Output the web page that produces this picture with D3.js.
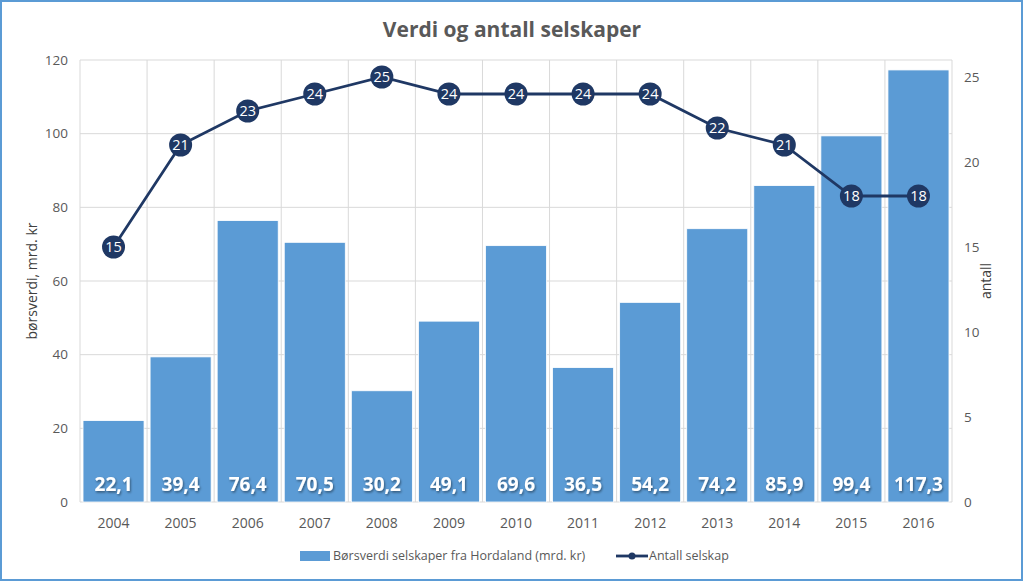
<!DOCTYPE html>
<html><head><meta charset="utf-8">
<script src="https://cdn.jsdelivr.net/npm/d3@7"></script>
<style>
body{margin:0;background:#fff;}
svg{display:block;font-family:"Open Sans","Liberation Sans",sans-serif;}
</style></head><body>
<svg id="c" width="1024" height="582"></svg>
<script>
const years = ["2004","2005","2006","2007","2008","2009","2010","2011","2012","2013","2014","2015","2016"];
const values = [22.1,39.4,76.4,70.5,30.2,49.1,69.6,36.5,54.2,74.2,85.9,99.4,117.3];
const counts = [15,21,23,24,25,24,24,24,24,22,21,18,18];
const leftTicks = [0,20,40,60,80,100,120];
const rightTicks = [0,5,10,15,20,25];

const svg = d3.select("#c");
const W=1024,H=582;
const L=80,R=952,T=60,B=502;
svg.append("rect").attr("x",1).attr("y",1).attr("width",W-3).attr("height",H-3)
  .attr("fill","#fff").attr("stroke","#5B9BD5").attr("stroke-width",2);

const x = d3.scaleBand().domain(years).range([L,R]).paddingInner(0.09).paddingOuter(0.045);
const xb = d3.scaleBand().domain(years).range([L,R]);
const y = d3.scaleLinear().domain([0,120]).range([B,T]);
const y2 = d3.scaleLinear().domain([0,26]).range([B,T]);

// grid
const g = svg.append("g");
g.selectAll("line.h").data(leftTicks).join("line")
  .attr("x1",L).attr("x2",R).attr("y1",d=>y(d)).attr("y2",d=>y(d))
  .attr("stroke","#d9d9d9").attr("stroke-width",1);
const vx = years.map(d=>xb(d)).concat([R]);
g.selectAll("line.v").data(vx).join("line")
  .attr("x1",d=>d).attr("x2",d=>d).attr("y1",T).attr("y2",B)
  .attr("stroke","#d9d9d9").attr("stroke-width",1);

// bars
svg.append("g").selectAll("rect").data(values).join("rect")
  .attr("x",(d,i)=>x(years[i])).attr("width",x.bandwidth())
  .attr("y",d=>y(d)).attr("height",d=>B-y(d))
  .attr("fill","#5B9BD5").attr("stroke","#fff").attr("stroke-width",0.8);

// shadow filter
const defs = svg.append("defs");
const f = defs.append("filter").attr("id","sh").attr("x","-20%").attr("y","-20%").attr("width","140%").attr("height","140%");
f.append("feDropShadow").attr("dx",1).attr("dy",1.5).attr("stdDeviation",1).attr("flood-color","#000").attr("flood-opacity",0.45);

svg.append("g").selectAll("text").data(values).join("text")
  .attr("x",(d,i)=>x(years[i])+x.bandwidth()/2).attr("y",491)
  .attr("text-anchor","middle").attr("fill","#fff").attr("font-weight","bold")
  .attr("font-size",19).attr("filter","url(#sh)")
  .text(d=>d.toFixed(1).replace(".",","));

// line
const cx = i=>xb(years[i])+xb.bandwidth()/2;
const line = d3.line().x((d,i)=>cx(i)).y(d=>y2(d));
svg.append("path").datum(counts).attr("d",line).attr("fill","none")
  .attr("stroke","#1F3864").attr("stroke-width",2.8);
const mk = svg.append("g").selectAll("g").data(counts).join("g")
  .attr("transform",(d,i)=>`translate(${cx(i)},${y2(d)})`);
mk.append("circle").attr("r",11.5).attr("fill","#1F3864");
mk.append("text").attr("text-anchor","middle").attr("dy","0.36em")
  .attr("fill","#fff").attr("font-size",14.5).text(d=>d);

// axes labels
const axc = "#595959";
svg.append("g").selectAll("text").data(leftTicks).join("text")
  .attr("x",68).attr("y",d=>y(d)).attr("dy","0.35em").attr("text-anchor","end")
  .attr("fill",axc).attr("font-size",13.5).text(d=>d);
svg.append("g").selectAll("text").data(rightTicks).join("text")
  .attr("x",964).attr("y",d=>y2(d)).attr("dy","0.35em").attr("text-anchor","start")
  .attr("fill",axc).attr("font-size",13.5).text(d=>d);
svg.append("g").selectAll("text").data(years).join("text")
  .attr("x",d=>xb(d)+xb.bandwidth()/2).attr("y",523).attr("dy","0.35em")
  .attr("text-anchor","middle").attr("fill",axc).attr("font-size",14).text(d=>d);

svg.append("text").attr("transform",`translate(37,${(T+B)/2}) rotate(-90)`)
  .attr("text-anchor","middle").attr("fill","#404040").attr("font-size",14).text("børsverdi, mrd. kr");
svg.append("text").attr("transform",`translate(991,${(T+B)/2}) rotate(-90)`)
  .attr("text-anchor","middle").attr("fill","#404040").attr("font-size",14).text("antall");

// title
svg.append("text").attr("x",512).attr("y",37).attr("text-anchor","middle")
  .attr("fill","#595959").attr("font-size",21).attr("font-weight","bold").text("Verdi og antall selskaper");

// legend
const ly=556;
svg.append("rect").attr("x",300).attr("y",ly-5).attr("width",30).attr("height",10).attr("fill","#5B9BD5");
svg.append("text").attr("x",333).attr("y",ly).attr("dy","0.35em").attr("fill",axc).attr("font-size",12.5)
  .text("Børsverdi selskaper fra Hordaland (mrd. kr)");
svg.append("line").attr("x1",616).attr("x2",648).attr("y1",ly).attr("y2",ly).attr("stroke","#1F3864").attr("stroke-width",2.8);
svg.append("circle").attr("cx",632).attr("cy",ly).attr("r",3.5).attr("fill","#1F3864");
svg.append("text").attr("x",649).attr("y",ly).attr("dy","0.35em").attr("fill",axc).attr("font-size",12.5)
  .text("Antall selskap");
</script></body></html>
